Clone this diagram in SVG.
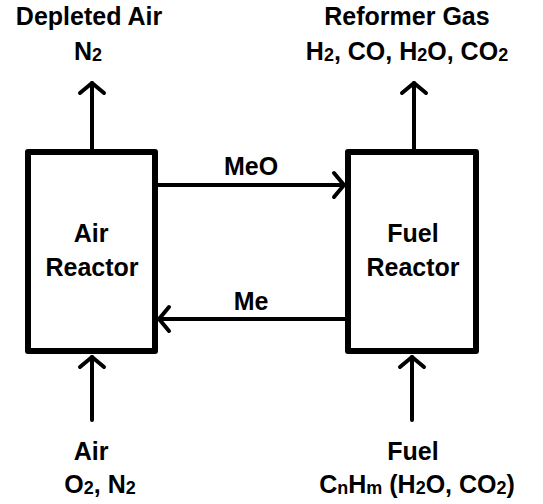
<svg xmlns="http://www.w3.org/2000/svg" width="543" height="504" viewBox="0 0 543 504">
<defs>
<style>
text{font-family:"Liberation Sans",Arial,sans-serif;font-weight:bold;font-size:25px;fill:#000;text-anchor:middle}
.sub{font-size:18px}
.box{fill:#fff;stroke:#000;stroke-width:6;stroke-linejoin:round}
.conn{fill:none;stroke:#000;stroke-width:4;stroke-linecap:round}
</style>
<marker id="arr" markerUnits="userSpaceOnUse" markerWidth="30" markerHeight="30" refX="0" refY="0" orient="auto" overflow="visible">
<path d="M-10,-12 L0,0 L-10,12" fill="none" stroke="#000" stroke-width="4" stroke-linecap="round" stroke-linejoin="round"/>
</marker>
</defs>
<rect width="543" height="504" fill="#fff"/>
<g id="connectors">
<line class="conn" x1="92" y1="150" x2="92" y2="83" marker-end="url(#arr)"/>
<line class="conn" x1="414" y1="150" x2="414" y2="83" marker-end="url(#arr)"/>
<line class="conn" x1="92" y1="420" x2="92" y2="357" marker-end="url(#arr)"/>
<line class="conn" x1="412" y1="420" x2="412" y2="357" marker-end="url(#arr)"/>
<line class="conn" x1="158" y1="185" x2="344" y2="185" marker-end="url(#arr)"/>
<line class="conn" x1="345" y1="319" x2="159" y2="319" marker-end="url(#arr)"/>
<text x="251" y="175">MeO</text>
<text x="251" y="310">Me</text>
</g>
<g id="air-reactor">
<rect class="box" x="28" y="152" width="127" height="199"/>
<text x="91" y="242">Air</text>
<text x="92" y="276">Reactor</text>
</g>
<g id="fuel-reactor">
<rect class="box" x="348" y="152" width="128" height="199"/>
<text x="413" y="242">Fuel</text>
<text x="413" y="276">Reactor</text>
</g>
<g id="depleted-air">
<text x="89" y="25">Depleted Air</text>
<text x="88" y="60">N<tspan class="sub" dy="1">2</tspan></text>
</g>
<g id="reformer-gas">
<text x="407" y="25">Reformer Gas</text>
<text x="407" y="60">H<tspan class="sub" dy="1">2</tspan><tspan dy="-1">, CO, H</tspan><tspan class="sub" dy="1">2</tspan><tspan dy="-1">O, CO</tspan><tspan class="sub" dy="1">2</tspan></text>
</g>
<g id="air-in">
<text x="91" y="460">Air</text>
<text x="100" y="493">O<tspan class="sub" dy="1">2</tspan><tspan dy="-1">, N</tspan><tspan class="sub" dy="1">2</tspan></text>
</g>
<g id="fuel-in">
<text x="413" y="460">Fuel</text>
<text x="417" y="493">C<tspan class="sub" dy="1">n</tspan><tspan dy="-1">H</tspan><tspan class="sub" dy="1">m</tspan><tspan dy="-1"> (H</tspan><tspan class="sub" dy="1">2</tspan><tspan dy="-1">O, CO</tspan><tspan class="sub" dy="1">2</tspan><tspan dy="-1">)</tspan></text>
</g>
</svg>
